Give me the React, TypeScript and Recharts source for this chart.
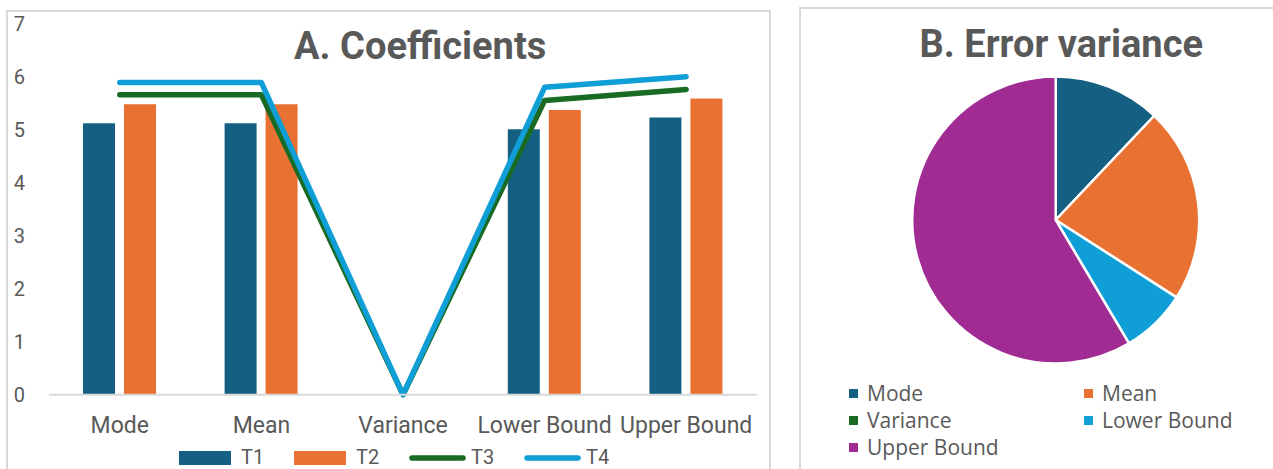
import React from 'react';
import { ComposedChart, Bar, Line, XAxis, YAxis, Legend, PieChart, Pie, Cell } from 'recharts';

// ---------- data ----------
const categories = ['Mode', 'Mean', 'Variance', 'Lower Bound', 'Upper Bound'];
const t1Values = [5.12, 5.12, 0, 5.01, 5.23];
const t2Values = [5.48, 5.48, 0, 5.37, 5.59];
const t3Values = [5.66, 5.66, 0, 5.55, 5.76];
const t4Values = [5.89, 5.89, 0, 5.8, 6.0];
const yTicks = [0, 1, 2, 3, 4, 5, 6, 7];
const seriesNames = ['T1', 'T2', 'T3', 'T4'];
const seriesKinds = ['bar', 'bar', 'line', 'line'];

const pieLabels = ['Mode', 'Mean', 'Variance', 'Lower Bound', 'Upper Bound'];
const pieValues = [12.05, 22.0, 0, 7.4, 58.5];

const titleA = 'A. Coefficients';
const titleB = 'B. Error variance';

// ---------- styles ----------
const seriesColors = ['#156082', '#E97132', '#196B24', '#0F9ED5'];
const pieColors = ['#156082', '#E97132', '#196B24', '#0F9ED5', '#A02B93'];
const grey = '#595959';

const barData = categories.map((c, i) => ({
  name: c,
  T1: t1Values[i],
  T2: t2Values[i],
  T3: t3Values[i],
  T4: t4Values[i],
}));

const pieData = pieLabels.map((n, i) => ({ name: n, value: pieValues[i] }));

function BarLegend() {
  return (
    <div
      style={{
        display: 'flex',
        alignItems: 'center',
        height: 23,
        paddingLeft: 172,
        fontFamily: 'Roboto',
        fontSize: 20,
        color: grey,
        lineHeight: '23px',
      }}
    >
      {seriesNames.map((n, i) => (
        <div key={n} style={{ display: 'flex', alignItems: 'center', width: 115, height: 23 }}>
          <svg width={62} height={23} style={{ display: 'block' }}>
            {seriesKinds[i] === 'bar' ? (
              <rect x={0} y={5} width={52} height={14} fill={seriesColors[i]} />
            ) : (
              <line x1={3} y1={12} x2={54} y2={12} stroke={seriesColors[i]} strokeWidth={5.5} strokeLinecap="round" />
            )}
          </svg>
          <span>{n}</span>
        </div>
      ))}
    </div>
  );
}

function PieLegend() {
  return (
    <div
      style={{
        display: 'grid',
        gridTemplateColumns: '235px 235px',
        gridAutoRows: '27px',
        fontFamily: '"Open Sans"',
        fontSize: 21,
        color: grey,
      }}
    >
      {pieLabels.map((n, i) => (
        <div key={n} style={{ display: 'flex', alignItems: 'center', height: 27, whiteSpace: 'nowrap' }}>
          <span style={{ display: 'inline-block', width: 9, height: 9, background: pieColors[i], marginRight: 9 }} />
          <span>{n}</span>
        </div>
      ))}
    </div>
  );
}

const titleStyle: React.CSSProperties = {
  position: 'absolute',
  width: 500,
  textAlign: 'center',
  fontFamily: 'Roboto',
  fontWeight: 700,
  fontSize: 38,
  lineHeight: '38px',
  color: grey,
  whiteSpace: 'nowrap',
};

export default function App() {
  return (
    <div
      style={{
        position: 'absolute',
        left: 0,
        top: 0,
        width: 1273,
        height: 469,
        overflow: 'hidden',
        background: '#ffffff',
      }}
    >
      {/* panel borders */}
      <div
        style={{
          position: 'absolute',
          left: 6,
          top: 10,
          width: 765,
          height: 500,
          border: '2px solid #d9d9d9',
          boxSizing: 'border-box',
        }}
      />
      <div
        style={{
          position: 'absolute',
          left: 799,
          top: 7,
          width: 600,
          height: 500,
          border: '2px solid #d9d9d9',
          boxSizing: 'border-box',
        }}
      />

      {/* A. Coefficients */}
      <div style={{ position: 'absolute', left: 7, top: 10 }}>
        <ComposedChart
          width={763}
          height={459}
          data={barData}
          margin={{ top: 13.7, right: 13, left: 0, bottom: 0 }}
          barSize={32}
          barGap={9}
        >
          <XAxis
            dataKey="name"
            height={51.3}
            axisLine={{ stroke: '#d9d9d9', strokeWidth: 2 }}
            tickLine={false}
            tickMargin={16}
            interval={0}
            tick={{ fontFamily: 'Roboto', fontSize: 23, fill: grey }}
          />
          <YAxis
            width={42}
            domain={[0, 7]}
            ticks={yTicks}
            axisLine={false}
            tickLine={false}
            tickMargin={18}
            interval={0}
            tick={{ fontFamily: 'Roboto', fontSize: 20, fill: grey }}
          />
          <Bar dataKey="T1" fill={seriesColors[0]} isAnimationActive={false} />
          <Bar dataKey="T2" fill={seriesColors[1]} isAnimationActive={false} />
          <Line
            type="linear"
            dataKey="T3"
            stroke={seriesColors[2]}
            strokeWidth={5.5}
            strokeLinecap="round"
            strokeLinejoin="round"
            dot={false}
            activeDot={false}
            isAnimationActive={false}
          />
          <Line
            type="linear"
            dataKey="T4"
            stroke={seriesColors[3]}
            strokeWidth={5.5}
            strokeLinecap="round"
            strokeLinejoin="round"
            dot={false}
            activeDot={false}
            isAnimationActive={false}
          />
          <Legend verticalAlign="bottom" align="left" content={() => <BarLegend />} />
        </ComposedChart>
      </div>
      <div style={{ ...titleStyle, left: 420.2 - 250, top: 27.2 }}>{titleA}</div>

      {/* B. Error variance */}
      <div style={{ position: 'absolute', left: 800, top: 7 }}>
        <PieChart width={473} height={462} margin={{ top: 0, right: 0, bottom: 0, left: 0 }}>
          <Pie
            data={pieData}
            dataKey="value"
            nameKey="name"
            cx={255.7}
            cy={213}
            outerRadius={143.5}
            innerRadius={0}
            startAngle={90}
            endAngle={-270}
            stroke="#ffffff"
            strokeWidth={2.5}
            isAnimationActive={false}
          >
            {pieData.map((d, i) => (
              <Cell key={d.name} fill={pieColors[i]} />
            ))}
          </Pie>
          <Legend
            content={() => <PieLegend />}
            wrapperStyle={{ left: 49, top: 372.5, bottom: 'auto', width: 470 }}
          />
        </PieChart>
      </div>
      <div style={{ ...titleStyle, left: 1061.3 - 250, top: 25 }}>{titleB}</div>
    </div>
  );
}
